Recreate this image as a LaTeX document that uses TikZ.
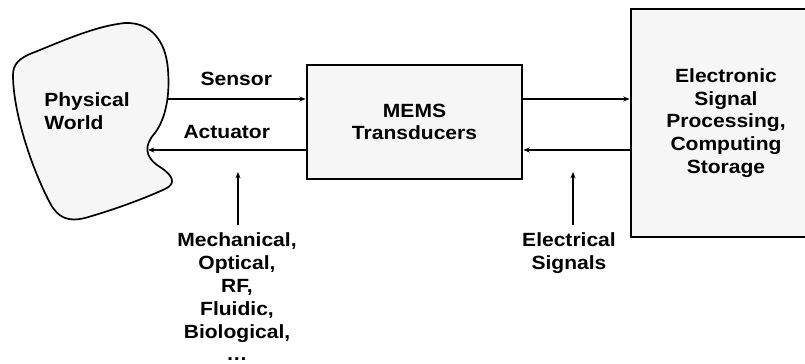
\documentclass[tikz,border=0pt]{standalone}
\usepackage{fontspec}
\setmainfont{Liberation Sans}[FakeStretch=1.1]
\usetikzlibrary{arrows.meta}

\begin{document}
\begin{tikzpicture}[x=0.025cm, y=-0.025cm,
  >={Stealth[length=4.5pt, width=3.6pt]}, line width=0.9pt,
  every node/.style={font=\fontsize{13.6}{16.2}\selectfont\bfseries},
  block/.style={draw, line width=2pt, fill=gray!7, align=center},
  lbl/.style={align=center, inner sep=1pt}]

  \clip (0,0) rectangle (805,363);

  % mundo fisico
  \draw[line width=1.2pt, fill=gray!7]
    (13,75) .. controls (13,110) and (30,165) .. (50,203)
    .. controls (58,218) and (68,222) .. (85,218)
    .. controls (120,208) and (150,196) .. (165,189)
    .. controls (176,184) and (174,176) .. (160,167)
    .. controls (144,157) and (144,145) .. (155,133)
    .. controls (166,118) and (170,95) .. (168,70)
    .. controls (166,40) and (150,22) .. (125,23)
    .. controls (95,26) and (60,42) .. (35,52)
    .. controls (18,58) and (13,65) .. (13,75) -- cycle;
  \node[lbl, align=left] (pw) at (87,111) {Physical\\World};
  \coordinate (pwS) at (167,99);
  \coordinate (pwA) at (148,150);

  % bloques
  \node[block, minimum width=5.375cm, minimum height=2.85cm] (mems) at (414.5,122)
    {MEMS\\Transducers};
  \node[block, minimum width=4.75cm, minimum height=5.7cm] (esp) at (726,123)
    {Electronic\\Signal\\Processing,\\Computing\\Storage};

  % flechas horizontales
  \draw[->] (pwS) -- (mems.west |- pwS) node[midway, above=6pt]{Sensor};
  \draw[->] (mems.west |- pwA) -- (pwA) node[midway, above=4pt]{Actuator};
  \draw[->] (mems.east |- pwS) -- (esp.west |- pwS);
  \draw[->] (esp.west |- pwA) -- (mems.east |- pwA);

  % dominios de entrada
  \node[lbl, anchor=north] (dom) at (237,231)
    {Mechanical,\\Optical,\\RF,\\Fluidic,\\Biological,\\\dots};
  \coordinate (domUp) at (238,172);
  \draw[->] (dom.north -| domUp) ++(0,-6) -- (domUp);

  % senales electricas
  \node[lbl, anchor=north] (el) at (569,231) {Electrical\\Signals};
  \coordinate (elUp) at (573,172);
  \draw[->] (el.north -| elUp) ++(0,-6) -- (elUp);
\end{tikzpicture}
\end{document}
